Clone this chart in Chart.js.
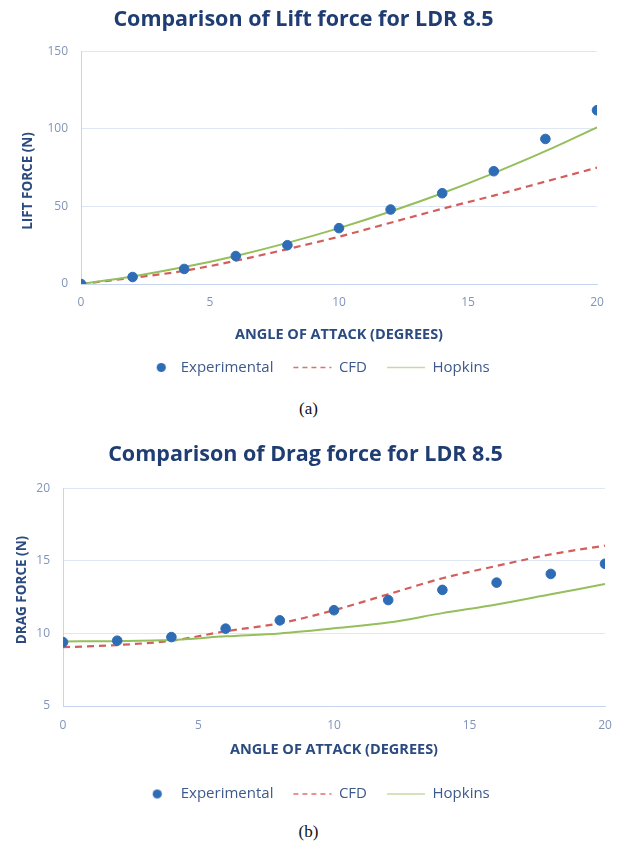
<!DOCTYPE html>
<html>
<head>
<meta charset="utf-8">
<title>Lift and drag comparison, LDR 8.5</title>
<script src="https://cdn.jsdelivr.net/npm/chart.js@4.4.1/dist/chart.umd.min.js"></script>
<style>
  html, body { margin: 0; padding: 0; background: #ffffff; }
  body { width: 617px; height: 841px; position: relative; overflow: hidden; }
  .panel { position: absolute; left: 0; width: 617px; }
  #panelA { top: 0; height: 390px; }
  #panelB { top: 430px; height: 385px; }
  .caption {
    position: absolute; left: 0; width: 617px; text-align: center;
    font-family: "Liberation Serif", "DejaVu Serif", serif; font-size: 17px; color: #111;
  }
</style>
</head>
<body>
<div class="panel" id="panelA"><canvas id="liftChart" width="617" height="390"></canvas></div>
<div class="caption" style="top:399px">(a)</div>
<div class="panel" id="panelB"><canvas id="dragChart" width="617" height="385"></canvas></div>
<div class="caption" style="top:822px">(b)</div>

<script>
// Angle of attack (degrees)
const angles = [0, 2, 4, 6, 8, 10, 12, 14, 16, 18, 20];

// Lift force (N)
const liftExperimental = [0, 4.5, 9.7, 18, 25, 36, 48, 58.5, 72.7, 93.5, 112];
const liftCFD          = [0, 4, 8.5, 15, 22.5, 30.5, 39.5, 48.5, 57, 66, 75];
const liftHopkins      = [0, 4.9, 10.9, 18.1, 26.5, 36, 46.7, 58.5, 71.5, 85.6, 101];

// Drag force (N)
const dragExperimental = [9.4, 9.5, 9.75, 10.33, 10.9, 11.6, 12.3, 13.0, 13.5, 14.1, 14.8];
const dragCFD          = [9.05, 9.2, 9.5, 10.15, 10.7, 11.6, 12.7, 13.8, 14.65, 15.45, 16.05];
const dragHopkins      = [9.45, 9.47, 9.55, 9.8, 10.0, 10.35, 10.75, 11.4, 12.0, 12.7, 13.4];

// Series names
const seriesNames = ['Experimental', 'CFD', 'Hopkins'];

const FONT = '"Open Sans", "Noto Sans", sans-serif';
const NAVY = '#1f3d72';
const AXIS_NAVY = '#2a4a80';
const TICK = '#8294b8';
const LEGEND_TEXT = '#3d5a8c';
const GRID = '#dfe7f4';
const AXIS_LINE = '#c6d5ee';
const BLUE = '#2e6db5';
const RED = '#d35f5c';
const GREEN = '#95bf5c';

const pairs = (xs, ys) => xs.map((x, i) => ({ x: x, y: ys[i] }));

// Small round marker used as the legend symbol for the measured points;
// `shift` moves the dot to the right inside its legend slot
function makeLegendDot(shift) {
  const c = document.createElement('canvas');
  c.width = 11 + 2 * shift; c.height = 11;
  const g = c.getContext('2d');
  g.fillStyle = BLUE;
  g.beginPath();
  g.arc(5.5 + 2 * shift, 5.5, 4.6, 0, Math.PI * 2);
  g.fill();
  return c;
}

// Nudges the legend block after layout and draws the rotated value-axis title
const panelDecor = {
  id: 'panelDecor',
  afterLayout(chart, args, opts) {
    const lg = chart.legend;
    if (lg) {
      lg.left += opts.legendDx; lg.right += opts.legendDx;
      lg.top += opts.legendDy; lg.bottom += opts.legendDy;
    }
  },
  afterDraw(chart, args, opts) {
    const ctx = chart.ctx;
    ctx.save();
    ctx.translate(opts.yTitleX, opts.yTitleY);
    ctx.rotate(-Math.PI / 2);
    ctx.fillStyle = AXIS_NAVY;
    ctx.font = 'bold 13.5px ' + FONT;
    ctx.textAlign = 'center';
    ctx.textBaseline = 'middle';
    ctx.fillText(opts.yTitle, 0, 0);
    ctx.restore();
  }
};

function buildChart(canvasId, cfg) {
  const ctx = document.getElementById(canvasId).getContext('2d');
  const dot = makeLegendDot(cfg.dotShift);
  return new Chart(ctx, {
    type: 'line',
    plugins: [panelDecor],
    data: {
      datasets: [
        {
          label: seriesNames[0],
          data: pairs(angles, cfg.experimental),
          showLine: false,
          pointRadius: 4.8,
          pointHoverRadius: 4.8,
          pointBackgroundColor: BLUE,
          pointBorderColor: BLUE,
          borderColor: BLUE,
          backgroundColor: BLUE,
          order: 0
        },
        {
          label: seriesNames[1],
          data: pairs(angles, cfg.cfd),
          borderColor: RED,
          backgroundColor: RED,
          borderWidth: 2.2,
          borderDash: [7, 5],
          pointRadius: 0,
          cubicInterpolationMode: 'monotone',
          order: 2
        },
        {
          label: seriesNames[2],
          data: pairs(angles, cfg.hopkins),
          borderColor: GREEN,
          backgroundColor: GREEN,
          borderWidth: 2,
          pointRadius: 0,
          cubicInterpolationMode: 'monotone',
          order: 1
        }
      ]
    },
    options: {
      responsive: false,
      animation: false,
      events: [],
      layout: { padding: cfg.padding },
      plugins: {
        tooltip: { enabled: false },
        panelDecor: {
          legendDx: cfg.legendDx,
          legendDy: cfg.legendDy,
          yTitle: cfg.yTitle,
          yTitleX: cfg.yTitleX,
          yTitleY: cfg.yTitleY
        },
        title: {
          display: true,
          text: cfg.title,
          color: NAVY,
          font: { family: FONT, size: 21.5, weight: 'bold', lineHeight: 1.2 },
          padding: cfg.titlePadding
        },
        legend: {
          display: true,
          position: 'bottom',
          labels: {
            color: LEGEND_TEXT,
            font: { family: FONT, size: 15 },
            usePointStyle: true,
            pointStyleWidth: 38,
            boxHeight: 6,
            padding: 20,
            sort: (a, b) => a.datasetIndex - b.datasetIndex,
            generateLabels(chart) {
              const items = Chart.defaults.plugins.legend.labels.generateLabels(chart);
              items.forEach((item) => {
                const i = item.datasetIndex;
                if (i === 0) {
                  item.pointStyle = dot;
                  item.lineDash = [];
                } else if (i === 1) {
                  item.pointStyle = 'line';
                  item.strokeStyle = '#e07070';
                  item.lineWidth = 1.6;
                  item.lineDash = [5, 4];
                } else {
                  item.pointStyle = 'line';
                  item.strokeStyle = '#c4dba6';
                  item.lineWidth = 1.6;
                  item.lineDash = [];
                }
              });
              return items;
            }
          }
        }
      },
      scales: {
        x: {
          type: 'linear',
          min: 0,
          max: 20,
          afterFit(scale) {
            scale.height = cfg.xHeight;
            scale.paddingLeft = 0;
            scale.paddingRight = 0;
          },
          ticks: {
            stepSize: 5,
            color: TICK,
            padding: cfg.xTickPad,
            font: { family: FONT, size: 12 }
          },
          grid: { display: false, drawTicks: false },
          border: { display: true, color: AXIS_LINE, width: 1 },
          title: {
            display: true,
            text: 'ANGLE OF ATTACK (DEGREES)',
            color: AXIS_NAVY,
            font: { family: FONT, size: 14.5, weight: 'bold', lineHeight: 1.2 },
            padding: { top: 0, bottom: cfg.xTitlePad }
          }
        },
        y: {
          min: cfg.yMin,
          max: cfg.yMax,
          afterFit(scale) { scale.width = cfg.yWidth; },
          ticks: {
            stepSize: cfg.yStep,
            color: TICK,
            padding: 13,
            font: { family: FONT, size: 12 }
          },
          grid: { color: GRID, lineWidth: 1, drawTicks: false },
          border: { display: true, color: AXIS_LINE, width: 1 },
          title: { display: false }
        }
      }
    }
  });
}

buildChart('liftChart', {
  title: 'Comparison of Lift force for LDR 8.5',
  yTitle: 'LIFT FORCE (N)',
  experimental: liftExperimental,
  cfd: liftCFD,
  hopkins: liftHopkins,
  yMin: 0, yMax: 150, yStep: 50,
  padding: { left: 10, right: 20, top: 0, bottom: 1 },
  titlePadding: { top: 7, bottom: 18.5 },
  yWidth: 71,
  xHeight: 60,
  xTickPad: 11,
  xTitlePad: 0,
  legendDx: 9,
  legendDy: -4,
  dotShift: 7,
  yTitleX: 28,
  yTitleY: 181
});

buildChart('dragChart', {
  title: 'Comparison of Drag force for LDR 8.5',
  yTitle: 'DRAG FORCE (N)',
  experimental: dragExperimental,
  cfd: dragCFD,
  hopkins: dragHopkins,
  yMin: 5, yMax: 20, yStep: 5,
  padding: { left: 6, right: 12, top: 0, bottom: 11 },
  titlePadding: { top: 12, bottom: 20.5 },
  yWidth: 57,
  xHeight: 53,
  xTickPad: 12,
  xTitlePad: 0,
  legendDx: 7,
  legendDy: 7.5,
  dotShift: 3,
  yTitleX: 22,
  yTitleY: 160
});
</script>
</body>
</html>
